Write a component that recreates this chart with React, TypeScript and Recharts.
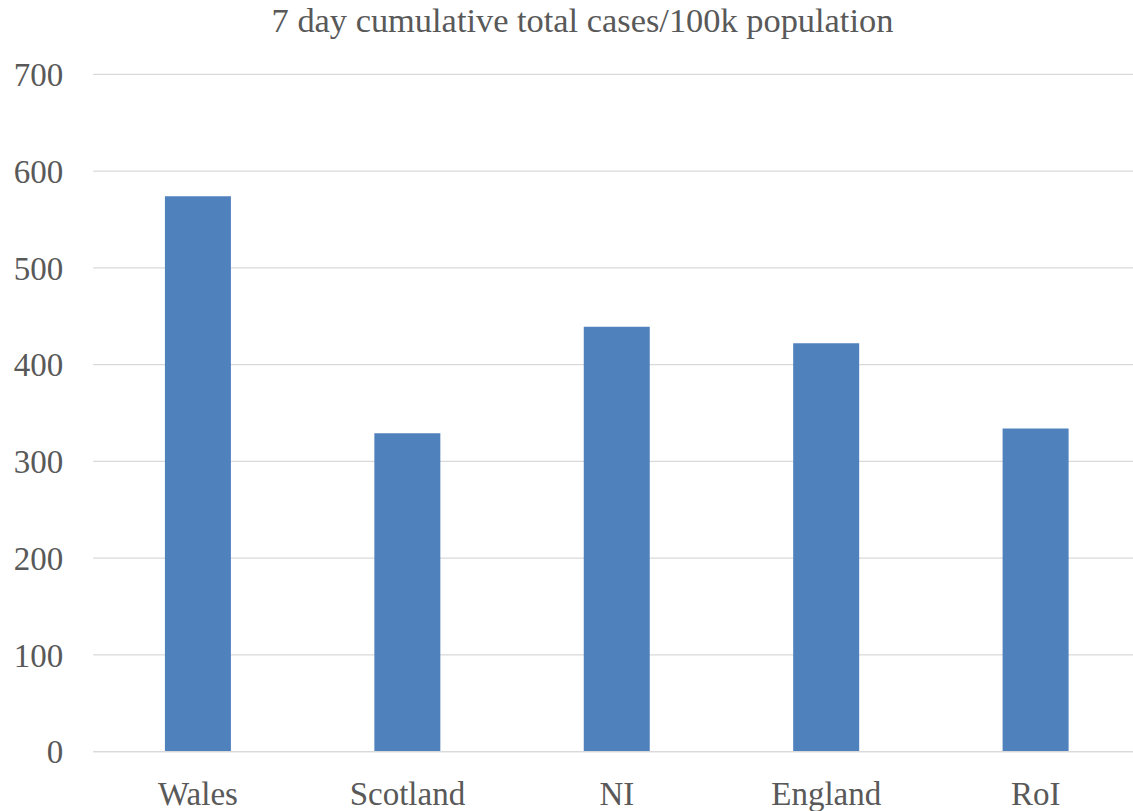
import { BarChart, Bar, XAxis, YAxis, CartesianGrid } from 'recharts';

// Données
const regions = ['Wales', 'Scotland', 'NI', 'England', 'RoI'];
const casesPer100k = [574, 329, 439, 422, 334];
const yTicks = [0, 100, 200, 300, 400, 500, 600, 700];

const TEXT = '#595959';
const GRID = '#d9d9d9';
const BAR = '#4f81bd';
const FONT = '"Liberation Serif", "DejaVu Serif", serif';

export default function App() {
  const data = regions.map((name, i) => ({ name, value: casesPer100k[i] }));

  return (
    <div
      style={{
        position: 'fixed',
        top: 0,
        left: 0,
        width: 1133,
        height: 811,
        overflow: 'hidden',
        background: '#ffffff',
        fontFamily: FONT,
      }}
    >
      <div
        style={{
          position: 'absolute',
          top: 3,
          left: 0,
          width: 1165,
          textAlign: 'center',
          fontSize: 34.4,
          lineHeight: '34.4px',
          color: TEXT,
          whiteSpace: 'nowrap',
        }}
      >
        7 day cumulative total cases/100k population
      </div>
      <BarChart
        width={1150}
        height={811}
        data={data}
        margin={{ top: 74.3, right: 9.6, left: 0, bottom: 0 }}
        barCategoryGap="34.2%"
      >
        <CartesianGrid vertical={false} stroke={GRID} strokeWidth={1.3} />
        <XAxis
          dataKey="name"
          height={59.3}
          axisLine={{ stroke: GRID, strokeWidth: 1.3 }}
          tickLine={false}
          tickSize={0}
          tickMargin={30}
          tick={{ fontSize: 33, fill: TEXT, fontFamily: FONT }}
          interval={0}
        />
        <YAxis
          width={93.3}
          domain={[0, 700]}
          ticks={yTicks}
          axisLine={false}
          tickLine={false}
          tickSize={0}
          tickMargin={30}
          tick={{ fontSize: 33, fill: TEXT, fontFamily: FONT }}
        />
        <Bar dataKey="value" fill={BAR} isAnimationActive={false} />
      </BarChart>
    </div>
  );
}
